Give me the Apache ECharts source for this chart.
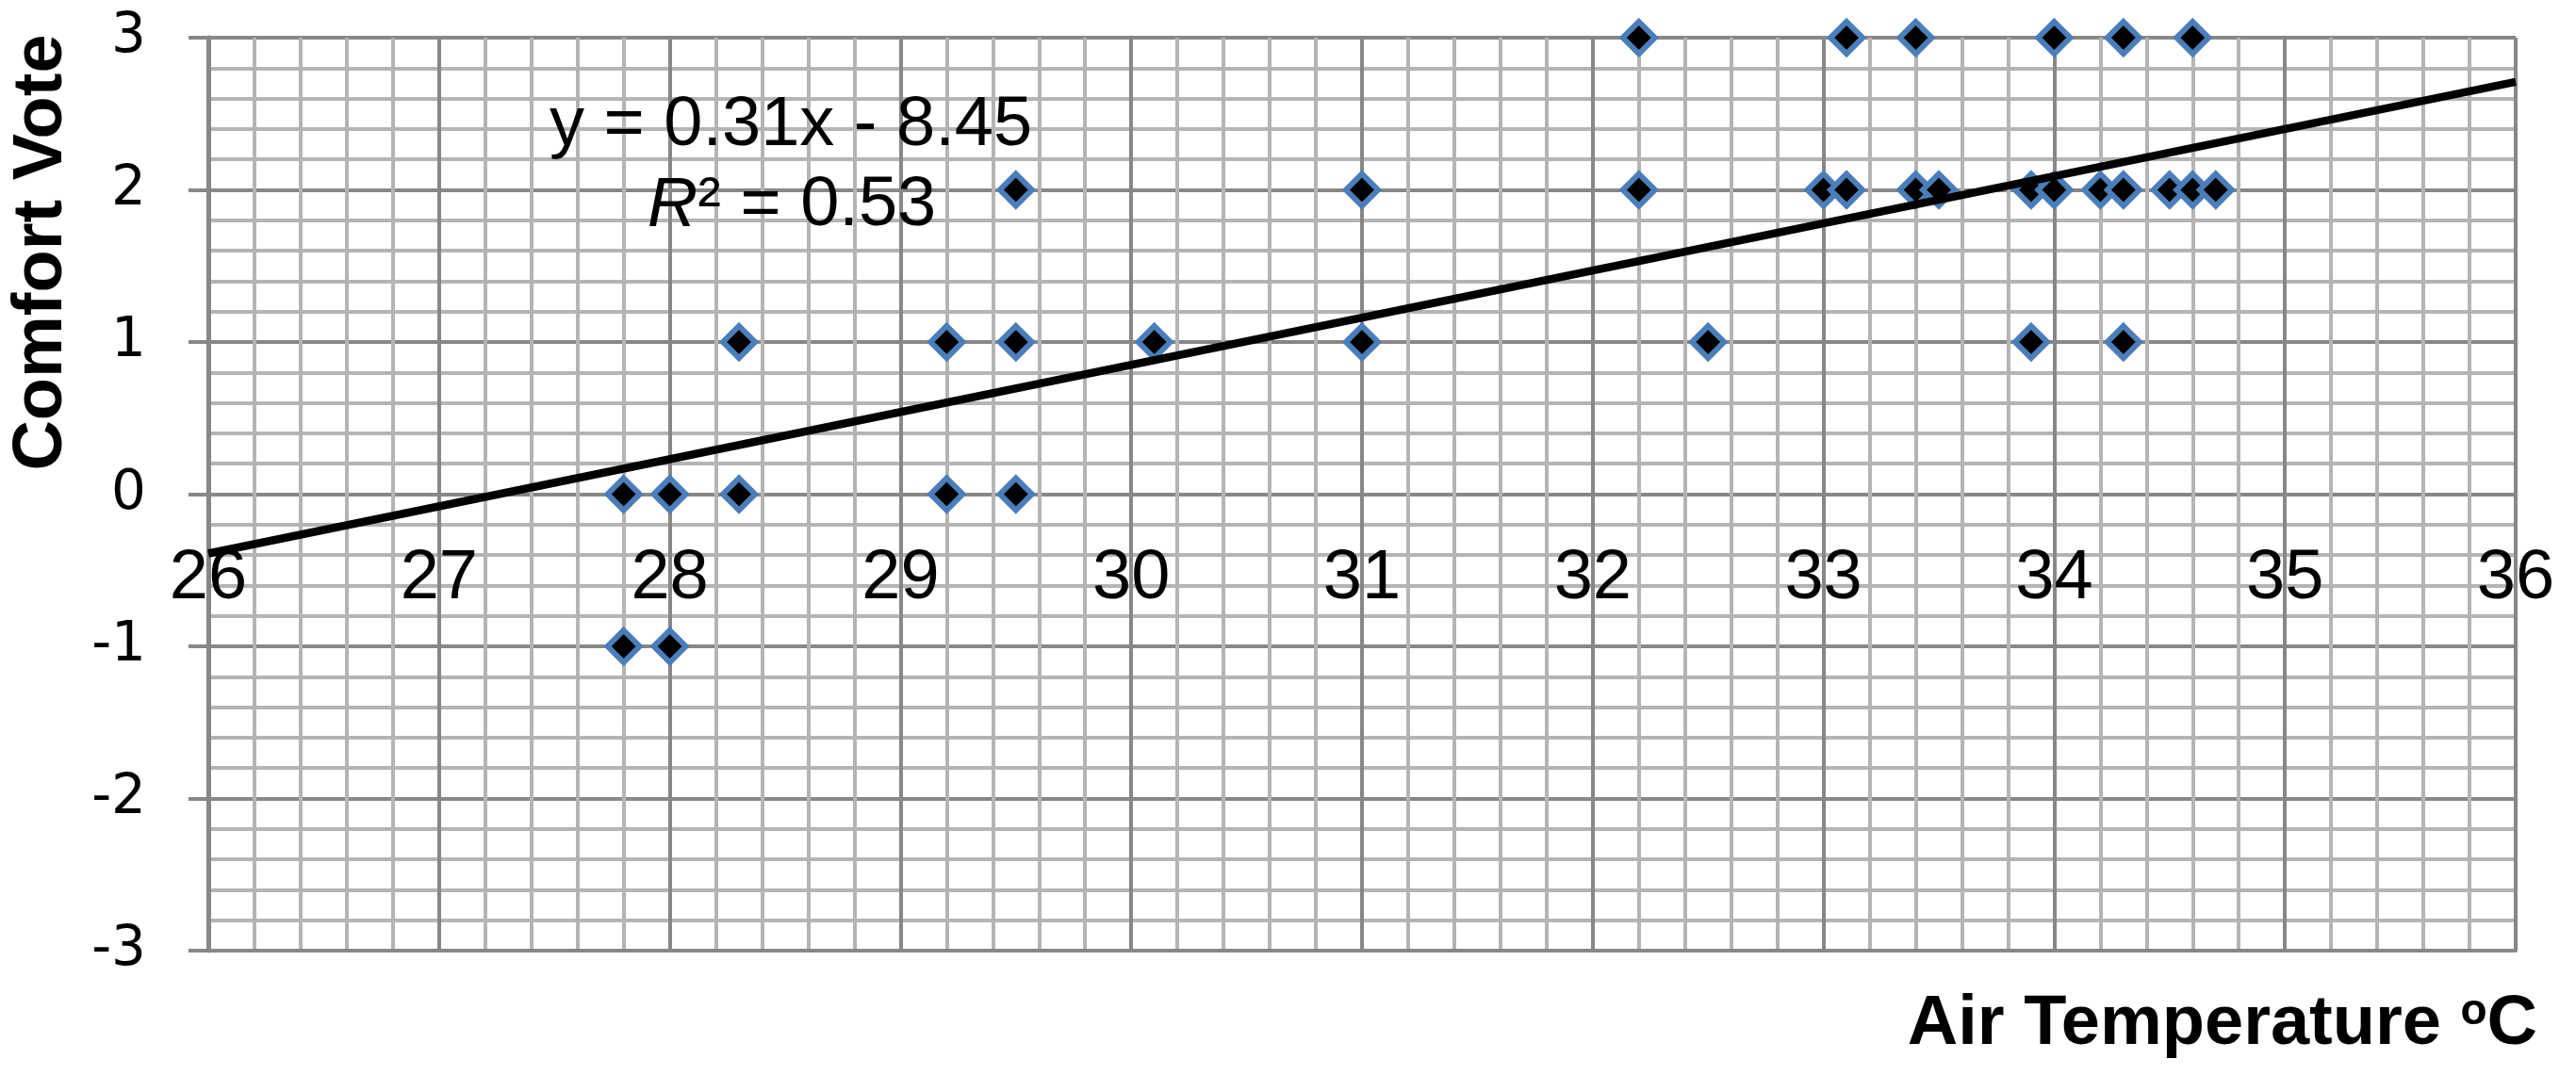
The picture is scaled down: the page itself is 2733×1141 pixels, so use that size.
<!DOCTYPE html>
<html><head><meta charset="utf-8">
<script src="https://cdn.jsdelivr.net/npm/echarts@6/dist/echarts.min.js"></script>
<style>html,body{margin:0;padding:0;background:#fff}#c{width:2733px;height:1141px}</style>
</head><body><div id="c"></div>
<script>
// Air temperature (°C) of each vote
const airTemp = [
  27.8, 28.0,
  27.8, 28.0, 28.3, 29.2, 29.5,
  28.3, 29.2, 29.5, 30.1, 31.0, 32.5, 33.9, 34.3,
  29.5, 31.0, 32.2, 33.0, 33.1, 33.4, 33.5, 33.9, 34.0, 34.2, 34.3, 34.5, 34.6, 34.7,
  32.2, 33.1, 33.4, 34.0, 34.3, 34.6
];
// Comfort vote of each point
const comfortVote = [
  -1, -1,
  0, 0, 0, 0, 0,
  1, 1, 1, 1, 1, 1, 1, 1,
  2, 2, 2, 2, 2, 2, 2, 2, 2, 2, 2, 2, 2, 2,
  3, 3, 3, 3, 3, 3
];
// Linear trend line end points (as drawn)
const trendTemp = [26, 36];
const trendVote = [-0.39, 2.71];
// Axis ranges / labels
const xRange = [26, 36];
const yRange = [-3, 3];
const equationText = 'y = 0.31x - 8.45';
const r2Value = '0.53';
const xTitle = 'Air Temperature ';
const yTitle = 'Comfort Vote';

const MAJOR = '#878787', MINOR = '#b4b4b4';
const chart = echarts.init(document.getElementById('c'), null, {renderer: 'canvas'});
chart.setOption({
  backgroundColor: '#ffffff',
  animation: false,
  grid: {left: 221, top: 40, width: 2448, height: 969, containLabel: false},
  xAxis: {
    type: 'value', min: xRange[0], max: xRange[1], interval: 1, position: 'bottom',
    axisLine: {show: true, onZero: false, lineStyle: {color: MAJOR, width: 4}},
    axisTick: {show: false},
    minorTick: {show: false, splitNumber: 5},
    minorSplitLine: {show: true, lineStyle: {color: MINOR, width: 4}},
    splitLine: {show: true, lineStyle: {color: MAJOR, width: 4}},
    // labels sit just below the y = 0 line, as in the original chart
    axisLabel: {show: true, margin: -431, fontSize: 74, fontFamily: 'Liberation Sans', color: '#000',
      showMinLabel: true, showMaxLabel: true}
  },
  yAxis: {
    type: 'value', min: yRange[0], max: yRange[1], interval: 1,
    axisLine: {show: true, onZero: false, lineStyle: {color: MAJOR, width: 5}},
    axisTick: {show: true, inside: false, length: 21, lineStyle: {color: MAJOR, width: 4}},
    minorTick: {show: false, splitNumber: 5},
    minorSplitLine: {show: true, lineStyle: {color: MINOR, width: 4}},
    splitLine: {show: true, lineStyle: {color: MAJOR, width: 4}},
    axisLabel: {show: true, margin: 66, fontSize: 58, fontFamily: 'DejaVu Sans', color: '#000'}
  },
  series: [
    {
      type: 'scatter', z: 3, clip: false,
      symbol: 'diamond', symbolSize: 34,
      itemStyle: {color: '#000000', borderColor: '#4A7EBB', borderWidth: 6, opacity: 1},
      data: airTemp.map((t, i) => [t, comfortVote[i]])
    },
    {
      type: 'line', z: 4, showSymbol: false, symbol: 'none', clip: false,
      lineStyle: {color: '#000000', width: 8.5},
      data: trendTemp.map((t, i) => [t, trendVote[i]])
    }
  ],
  graphic: [
    {type: 'text', x: 45, y: 268, rotation: Math.PI / 2, z: 10,
      style: {text: yTitle, font: 'bold 74px "Liberation Sans"', fill: '#000',
        align: 'center', verticalAlign: 'middle', textAlign: 'center', textVerticalAlign: 'middle'}},
    {type: 'text', x: 839, y: 134, z: 10,
      style: {text: equationText, font: '74px "Liberation Sans"', fill: '#000',
        align: 'center', verticalAlign: 'middle', textAlign: 'center', textVerticalAlign: 'middle'}},
    {type: 'text', x: 840, y: 219, z: 10,
      style: {text: '{i|R}² = ' + r2Value, font: '74px "Liberation Sans"', fill: '#000',
        align: 'center', verticalAlign: 'middle', textAlign: 'center', textVerticalAlign: 'middle',
        rich: {i: {fontStyle: 'italic', fontSize: 74, fontFamily: 'Liberation Sans'}}}},
    {type: 'text', x: 2692, y: 1088, z: 10,
      style: {text: xTitle + '{s|o}C', font: 'bold 74px "Liberation Sans"', fill: '#000',
        align: 'right', verticalAlign: 'middle', textAlign: 'right', textVerticalAlign: 'middle',
        rich: {s: {fontSize: 46, fontWeight: 'bold', fontFamily: 'Liberation Sans', verticalAlign: 'top'}}}}
  ]
});
</script></body></html>
